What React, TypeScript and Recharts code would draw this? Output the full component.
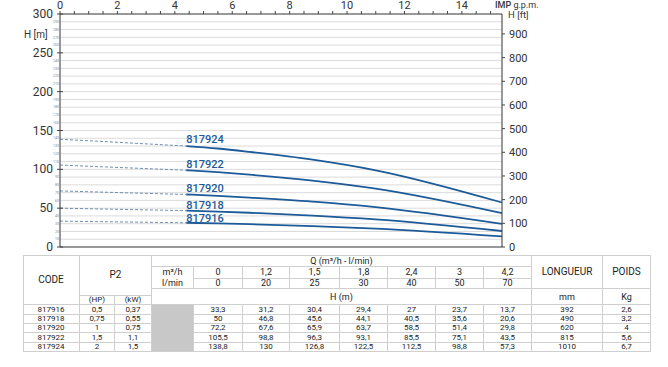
import React from 'react';
import { LineChart, Line, XAxis, YAxis, CartesianGrid } from 'recharts';

const codes = ['817916', '817918', '817920', '817922', '817924'];
const flowM3h = [0, 1.2, 1.5, 1.8, 2.4, 3, 4.2];
const flowLmin = [0, 20, 25, 30, 40, 50, 70];
const head817916 = [33.3, 31.2, 30.4, 29.4, 27, 23.7, 13.7];
const head817918 = [50, 46.8, 45.6, 44.1, 40.5, 35.6, 20.6];
const head817920 = [72.2, 67.6, 65.9, 63.7, 58.5, 51.4, 29.8];
const head817922 = [105.5, 98.8, 96.3, 93.1, 85.5, 75.1, 43.5];
const head817924 = [138.8, 130, 126.8, 122.5, 112.5, 98.8, 57.3];
const heads = [head817916, head817918, head817920, head817922, head817924];
const powerHp = ['0,5', '0,75', '1', '1,5', '2'];
const powerKw = ['0,37', '0,55', '0,75', '1,1', '1,5'];
const lengthMm = [392, 490, 620, 815, 1010];
const weightKg = ['2,6', '3,2', '4', '5,6', '6,7'];

const headTicksM = Array.from({ length: 31 }, (_, i) => i * 10);
const headTicksFt = [0, 100, 200, 300, 400, 500, 600, 700, 800, 900];
const impTicks = Array.from({ length: 31 }, (_, i) => i * 0.5);
const lminGrid = Array.from({ length: 36 }, (_, i) => i * 2);

const IMP_GAL = 4.54609;
const FT = 3.28084;
const BLUE = '#1d5a98';
// small vertical nudge of each curve name above its line
const labelDy = [-1, -2, -2, -2, -3];

const fmt = (v: number) => String(v).replace('.', ',');

const data = flowLmin.map((q, i) => {
  const row: any = { q, imp: q / IMP_GAL };
  codes.forEach((c, k) => {
    row[c] = i >= 1 ? heads[k][i] : null;
    row[c + '_d'] = i <= 1 ? heads[k][i] : null;
  });
  return row;
});

const LeftTick = (props: any) => {
  const { x, y, payload } = props;
  const v = payload.value;
  const major = v % 50 === 0;
  return (
    <g>
      {major ? <line x1={x - 3} x2={x + 3} y1={y} y2={y} stroke="#444" /> : null}
      <text
        x={major ? x - 7 : x - 1}
        y={y}
        dy={major ? 4 : 1.2}
        textAnchor="end"
        fontSize={major ? 12 : 3.5}
        fill={major ? '#333' : '#888'}
      >
        {v}
      </text>
    </g>
  );
};

const TopTick = (props: any) => {
  const { x, y, payload } = props;
  const v = payload.value;
  if (v % 2 !== 0) return null;
  return (
    <text x={x} y={y} textAnchor="middle" fontSize={11} fill="#333">
      {v}
    </text>
  );
};

const makeLabel = (code: string, k: number) => (props: any) =>
  props.index === 1 ? (
    <text x={props.x} y={props.y + labelDy[k]} fill={BLUE} fontSize={11} fontWeight={500}>
      {code}
    </text>
  ) : null;

const qCols = [194, 243, 290, 340, 388, 436, 484, 532];
const rowTop = 305.4;
const rowH = 9.36;

const Cell = ({ x0, x1, y0, y1, children, bg, fs }: any) => (
  <div
    style={{
      position: 'absolute',
      left: x0,
      top: y0,
      width: x1 - x0,
      height: y1 - y0,
      boxSizing: 'border-box',
      borderRight: '1px solid #cfcfcf',
      borderBottom: '1px solid #cfcfcf',
      background: bg || 'transparent',
      display: 'flex',
      flexDirection: 'column',
      alignItems: 'center',
      justifyContent: 'center',
      fontSize: fs || 8,
      lineHeight: '8px',
      color: '#222',
      whiteSpace: 'nowrap',
    }}
  >
    {children}
  </div>
);

export default function App() {
  return (
    <div
      style={{
        position: 'absolute',
        left: 0,
        top: 0,
        width: 668,
        height: 367,
        background: '#fff',
        fontFamily: 'Roboto, sans-serif',
        overflow: 'hidden',
      }}
    >
      <LineChart width={668} height={255} data={data} margin={{ top: 0, right: 106, bottom: 0, left: 0 }}>
        <CartesianGrid stroke="#d2d2d2" strokeWidth={0.8} />
        <XAxis
          dataKey="q"
          type="number"
          domain={[0, 70]}
          ticks={lminGrid}
          tick={false}
          tickLine={false}
          axisLine={{ stroke: '#444' }}
          height={8}
        />
        <XAxis
          xAxisId="imp"
          dataKey="imp"
          type="number"
          orientation="top"
          domain={[0, 70 / IMP_GAL]}
          ticks={impTicks}
          tick={<TopTick />}
          tickSize={3}
          tickMargin={2}
          tickLine={{ stroke: '#444' }}
          axisLine={{ stroke: '#444' }}
          height={14}
          interval={0}
        />
        <YAxis
          type="number"
          domain={[0, 300]}
          ticks={headTicksM}
          interval={0}
          width={60}
          tick={<LeftTick />}
          tickSize={0}
          tickMargin={0}
          tickLine={false}
          axisLine={{ stroke: '#444' }}
        />
        <YAxis
          yAxisId="ft"
          orientation="right"
          type="number"
          domain={[0, 300 * FT]}
          ticks={headTicksFt}
          interval={0}
          width={60}
          tickSize={3}
          tickMargin={4}
          tickLine={{ stroke: '#444' }}
          axisLine={{ stroke: '#444' }}
          tick={{ fontSize: 11, fill: '#333', textAnchor: 'start' }}
          allowDataOverflow
        />
        {codes.map((c) => (
          <Line
            key={c + '_d'}
            dataKey={c + '_d'}
            type="linear"
            stroke="#6f8fb5"
            strokeWidth={1}
            strokeDasharray="3 2"
            dot={false}
            isAnimationActive={false}
          />
        ))}
        {codes.map((c, k) => (
          <Line
            key={c}
            dataKey={c}
            type="monotone"
            stroke={BLUE}
            strokeWidth={1.8}
            dot={false}
            label={makeLabel(c, k)}
            isAnimationActive={false}
          />
        ))}
      </LineChart>

      <span style={{ position: 'absolute', left: 24, top: 29, fontSize: 10, color: '#333' }}>H [m]</span>
      <span style={{ position: 'absolute', left: 495, top: 0, fontSize: 9, color: '#333' }}>
        <b style={{ fontWeight: 500 }}>IMP</b> g.p.m.
      </span>
      <span style={{ position: 'absolute', left: 508, top: 9, fontSize: 9.5, color: '#333' }}>H [ft]</span>

      {/* table */}
      <div style={{ position: 'absolute', left: 23, top: 255, width: 628, height: 1, background: '#cfcfcf' }} />
      <div style={{ position: 'absolute', left: 23, top: 255, width: 1, height: 97, background: '#cfcfcf' }} />
      <Cell x0={23} x1={80} y0={255} y1={305.4} fs={10}>CODE</Cell>
      <Cell x0={80} x1={152} y0={255} y1={296.4} fs={10}>P2</Cell>
      <Cell x0={80} x1={115} y0={296.4} y1={305.4}>(HP)</Cell>
      <Cell x0={115} x1={152} y0={296.4} y1={305.4}>(kW)</Cell>
      <Cell x0={152} x1={532} y0={255} y1={267} fs={9}>Q (m³/h - l/min)</Cell>
      <Cell x0={152} x1={194} y0={267} y1={289} fs={9}>
        <span style={{ lineHeight: '10.5px' }}>m³/h</span>
        <span style={{ lineHeight: '10.5px' }}>l/min</span>
      </Cell>
      {flowM3h.map((f, i) => (
        <Cell key={'m' + i} x0={qCols[i]} x1={qCols[i + 1]} y0={267} y1={278.5} fs={9}>
          {fmt(f)}
        </Cell>
      ))}
      {flowLmin.map((f, i) => (
        <Cell key={'l' + i} x0={qCols[i]} x1={qCols[i + 1]} y0={278.5} y1={289} fs={9}>
          {f}
        </Cell>
      ))}
      <Cell x0={152} x1={532} y0={289} y1={305.4} fs={9}>H (m)</Cell>
      <Cell x0={532} x1={603} y0={255} y1={289} fs={10}>LONGUEUR</Cell>
      <Cell x0={532} x1={603} y0={289} y1={305.4} fs={9}>mm</Cell>
      <Cell x0={603} x1={651} y0={255} y1={289} fs={10}>POIDS</Cell>
      <Cell x0={603} x1={651} y0={289} y1={305.4} fs={9}>Kg</Cell>
      <Cell x0={152} x1={194} y0={rowTop} y1={rowTop + rowH * 5} bg="#c8c8c8" />
      {codes.map((c, r) => {
        const y0 = rowTop + r * rowH;
        const y1 = y0 + rowH;
        return (
          <React.Fragment key={c}>
            <Cell x0={23} x1={80} y0={y0} y1={y1}>{c}</Cell>
            <Cell x0={80} x1={115} y0={y0} y1={y1}>{powerHp[r]}</Cell>
            <Cell x0={115} x1={152} y0={y0} y1={y1}>{powerKw[r]}</Cell>
            {heads[r].map((h, i) => (
              <Cell key={i} x0={qCols[i]} x1={qCols[i + 1]} y0={y0} y1={y1}>
                {fmt(h)}
              </Cell>
            ))}
            <Cell x0={532} x1={603} y0={y0} y1={y1}>{lengthMm[r]}</Cell>
            <Cell x0={603} x1={651} y0={y0} y1={y1}>{weightKg[r]}</Cell>
          </React.Fragment>
        );
      })}
    </div>
  );
}
